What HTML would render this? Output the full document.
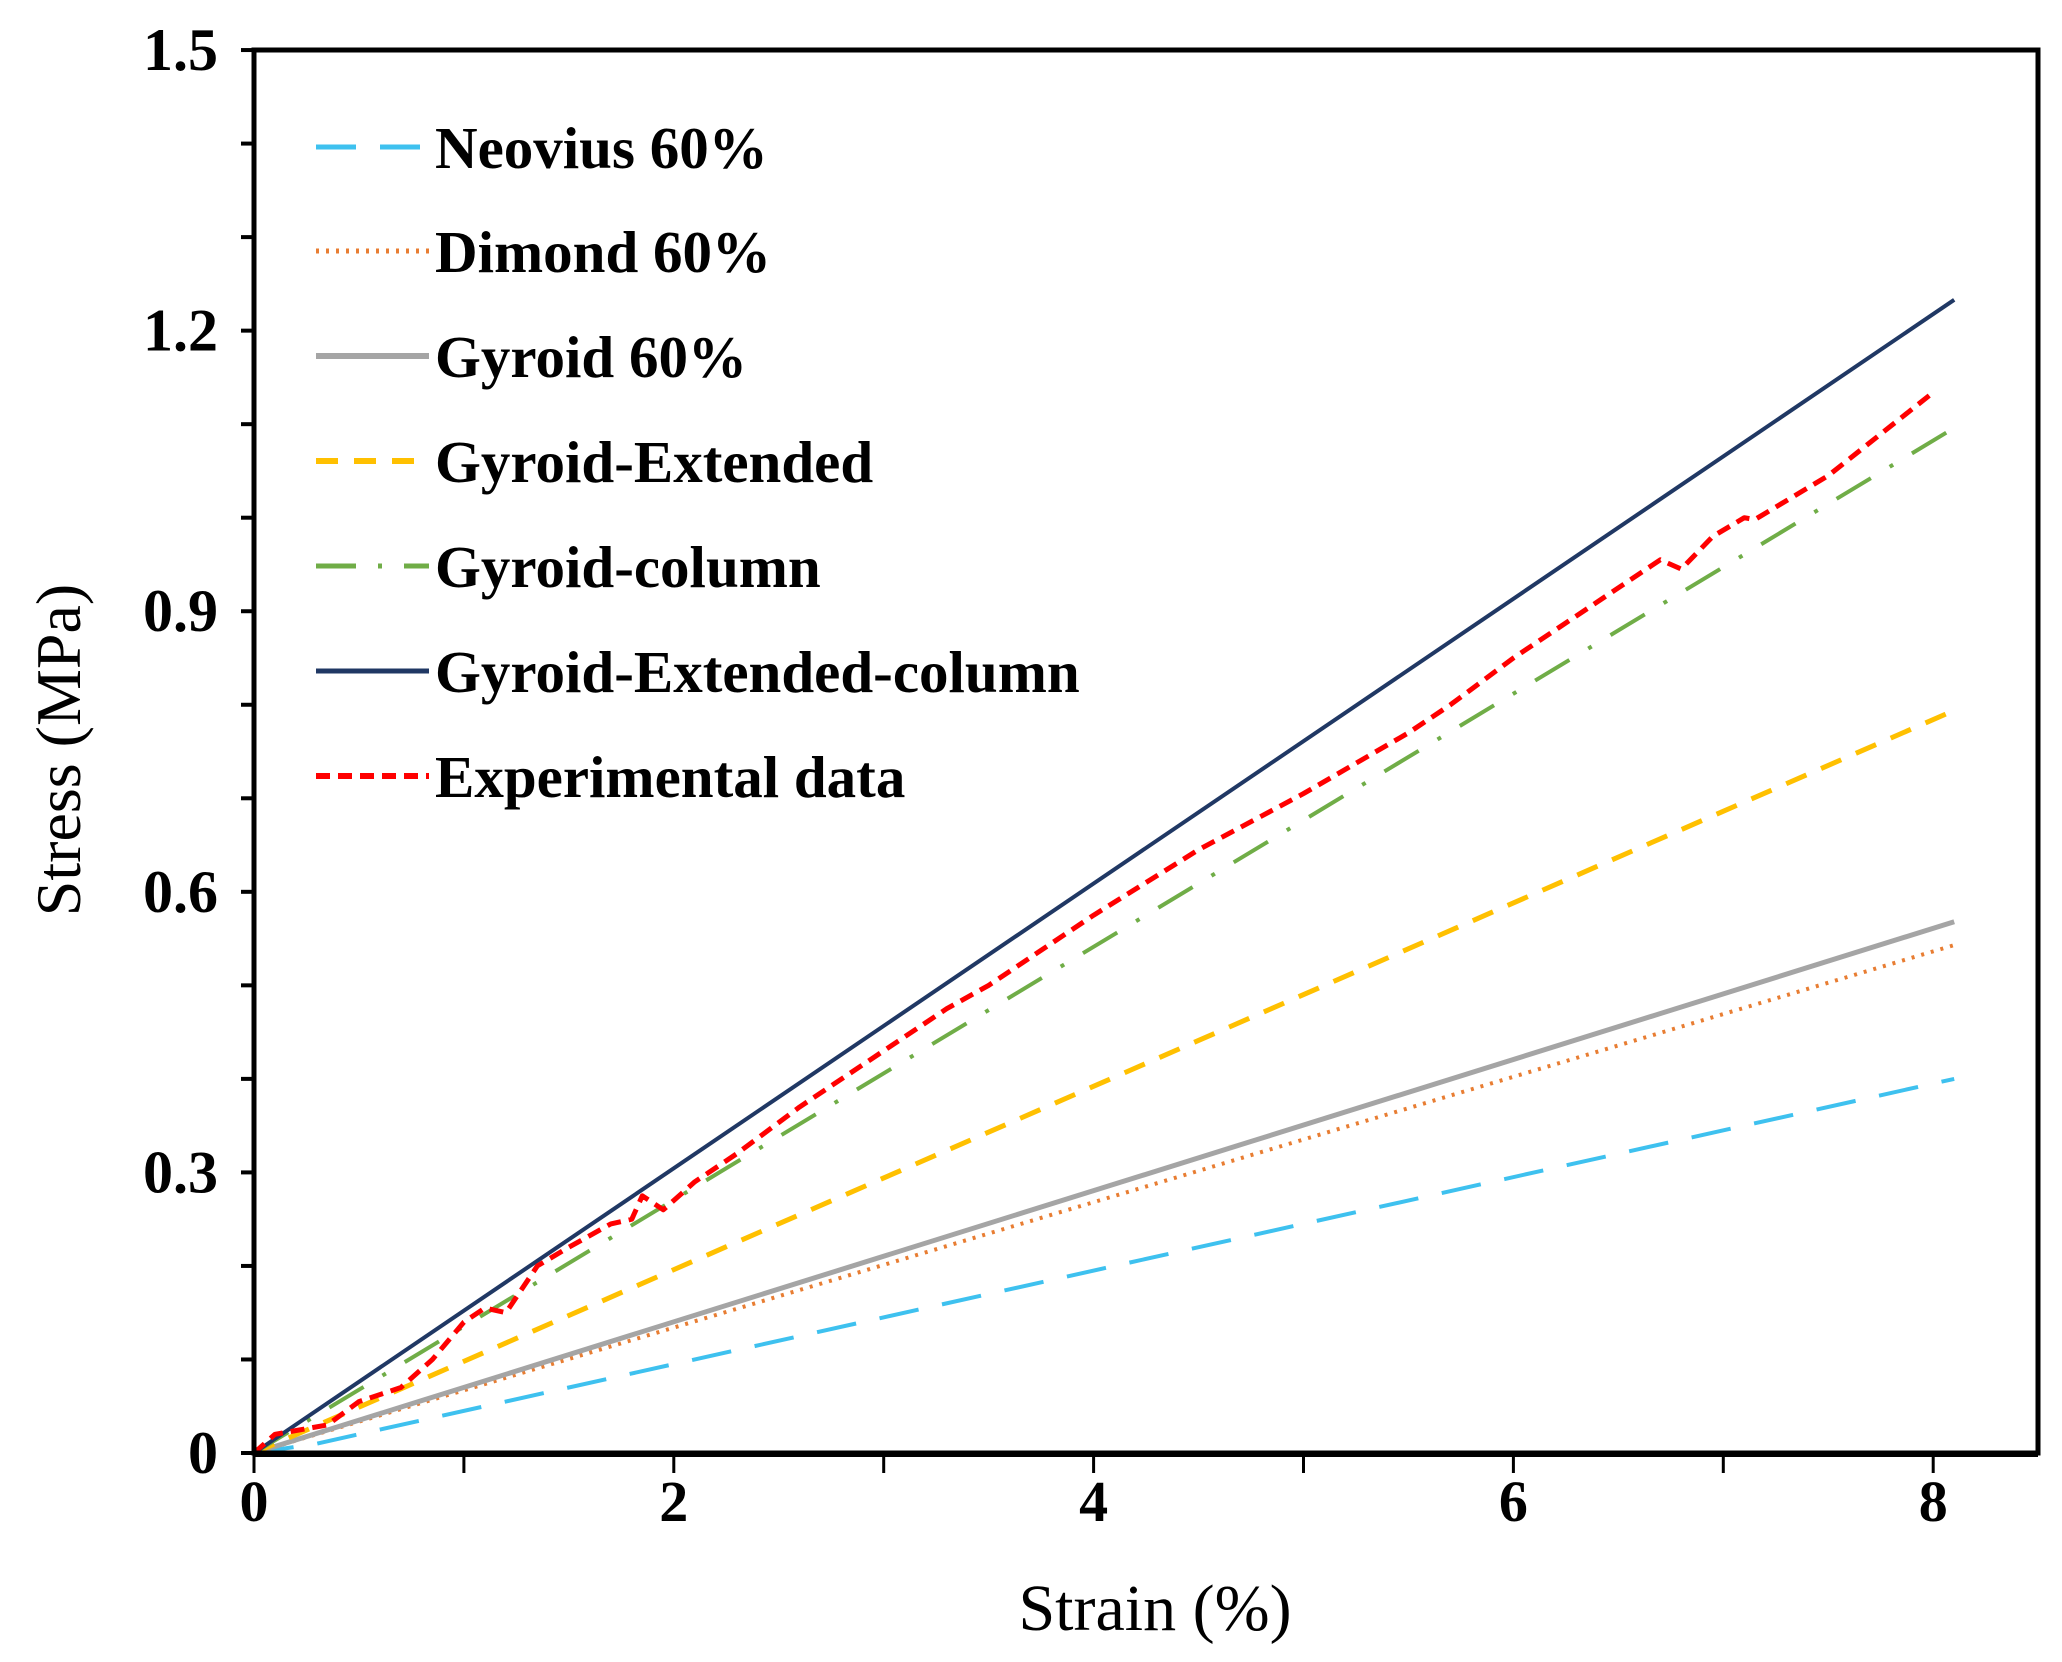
<!DOCTYPE html>
<html><head><meta charset="utf-8"><style>
html,body{margin:0;padding:0;background:#fff;}
svg{display:block;}
</style></head><body>
<svg id="chart" width="2062" height="1662" viewBox="0 0 2062 1662" xmlns="http://www.w3.org/2000/svg" font-family="'Liberation Serif', serif">
<g id="plot"></g>
</svg>
<script>
const xTicks = [0, 2, 4, 6, 8];
const yTicks = [0, 0.3, 0.6, 0.9, 1.2, 1.5];
const yTickLabels = ["0", "0.3", "0.6", "0.9", "1.2", "1.5"];
const seriesNames = ["Neovius 60%", "Dimond 60%", "Gyroid 60%", "Gyroid-Extended", "Gyroid-column", "Gyroid-Extended-column", "Experimental data"];
const neoviusX = [0, 0.3, 8.1];
const neoviusY = [0, 0.01, 0.40];
const dimondX = [0, 8.1];
const dimondY = [0, 0.543];
const gyroidX = [0, 8.1];
const gyroidY = [0, 0.568];
const gyroidExtX = [0, 8.1];
const gyroidExtY = [0, 0.794];
const gyroidColX = [0, 8.1];
const gyroidColY = [0, 1.096];
const gyroidExtColX = [0, 8.1];
const gyroidExtColY = [0, 1.233];
const expX = [0,0.1,0.35,0.5,0.7,0.85,1.0,1.1,1.2,1.35,1.5,1.7,1.8,1.85,1.95,2.1,2.3,2.6,3.0,3.3,3.5,4.0,4.5,5.0,5.5,5.7,6.0,6.5,6.7,6.8,6.95,7.1,7.15,7.5,8.0];
const expY = [0,0.02,0.03,0.055,0.07,0.1,0.14,0.155,0.15,0.2,0.22,0.245,0.25,0.275,0.26,0.29,0.32,0.37,0.43,0.475,0.5,0.575,0.645,0.705,0.77,0.8,0.85,0.925,0.955,0.945,0.98,1.0,0.998,1.045,1.134];

const X0 = 254, XU = 209.9, Y0 = 1453, YU = 935.3;
const sx = v => X0 + v * XU;
const sy = v => Y0 - v * YU;
const NS = "http://www.w3.org/2000/svg";
const plot = document.getElementById('plot');
function mk(tag, attrs, parent) {
  const e = document.createElementNS(NS, tag);
  for (const k in attrs) e.setAttribute(k, attrs[k]);
  (parent || plot).appendChild(e);
  return e;
}
const styles = [
  {c:"#3ec1ef", d:"40 24", w:4},
  {c:"#e87d32", d:"3 7", w:4},
  {c:"#a5a5a5", d:"", w:5},
  {c:"#ffc000", d:"22 16", w:5},
  {c:"#70ad47", d:"40 22 4 22", w:4},
  {c:"#203864", d:"", w:4},
  {c:"#ff0000", d:"14 8", w:5}
];
const data = [[neoviusX,neoviusY],[dimondX,dimondY],[gyroidX,gyroidY],[gyroidExtX,gyroidExtY],[gyroidColX,gyroidColY],[gyroidExtColX,gyroidExtColY],[expX,expY]];
const keys = ["neovius","dimond","gyroid","gyroid-extended","gyroid-column","gyroid-extended-column","experimental"];
data.forEach((s, i) => {
  const pts = s[0].map((x, j) => sx(x).toFixed(1) + "," + sy(s[1][j]).toFixed(1)).join(" ");
  const st = styles[i];
  const pl = mk('polyline', {points: pts, fill: "none", stroke: st.c, "stroke-width": st.w, "stroke-dasharray": st.d, "stroke-linejoin": "round"});
  
  
});
const ax = mk('path', {d: `M${X0},50 L2038,50 L2038,${Y0} L${X0},${Y0} Z`, fill: "none", stroke: "#000", "stroke-width": 5});


mk('line', {x1: X0, y1: Y0 + 2, x2: 2038, y2: Y0 + 2, stroke: "#000", "stroke-width": 4});
for (let k = 0; k <= 15; k++) {
  const v = k / 10;
  const t = mk('line', {x1: X0 - 13, y1: sy(v), x2: X0, y2: sy(v), stroke: "#000", "stroke-width": 4});
  
  
}
yTicks.forEach((v, i) => {
  const t = mk('text', {x: 218, y: sy(v) + 20, "text-anchor": "end", "font-size": 60, "font-weight": "bold"});
  t.textContent = yTickLabels[i];
  
  
});
for (let k = 0; k <= 8; k++) {
  const t = mk('line', {x1: sx(k), y1: Y0, x2: sx(k), y2: Y0 + 20, stroke: "#000", "stroke-width": 3});
  
  
}
xTicks.forEach(v => {
  const t = mk('text', {x: sx(v), y: 1521, "text-anchor": "middle", "font-size": 58, "font-weight": "bold"});
  t.textContent = String(v);
  
  
});
const xt = mk('text', {x: 1155, y: 1630, "text-anchor": "middle", "font-size": 66});
xt.textContent = "Strain (%)";


const yt = mk('text', {x: 0, y: 0, "text-anchor": "middle", "font-size": 64, transform: "translate(80,750) rotate(-90)"});
yt.textContent = "Stress (MPa)";


const rowsY = [147, 251, 356, 461, 566, 671, 776];
seriesNames.forEach((n, i) => {
  const g = mk('g', {});
  
  
  const st = styles[i];
  mk('line', {x1: 316, y1: rowsY[i], x2: 429, y2: rowsY[i], stroke: st.c, "stroke-width": st.w + 1, "stroke-dasharray": st.d}, g);
  const t = mk('text', {x: 435, y: rowsY[i] + 21, "font-size": 59, "font-weight": "bold"}, g);
  t.textContent = n;
});
</script>
</body></html>
